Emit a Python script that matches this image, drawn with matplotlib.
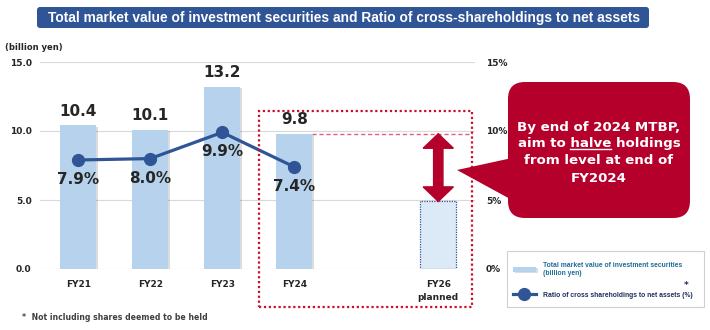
import matplotlib
matplotlib.use('Agg')
import matplotlib.pyplot as plt
from matplotlib.patches import Rectangle, FancyBboxPatch, Polygon
from matplotlib.lines import Line2D
import matplotlib.patheffects as pe
from matplotlib import font_manager

# ---------------- data ----------------
categories = ['FY21', 'FY22', 'FY23', 'FY24', 'FY26\nplanned']
positions = [0, 1, 2, 3, 5]
market_value = [10.4, 10.1, 13.2, 9.8]
planned_value = 4.9
ratio = [7.9, 8.0, 9.9, 7.4]
value_labels = ['10.4', '10.1', '13.2', '9.8']
ratio_labels = ['7.9%', '8.0%', '9.9%', '7.4%']
left_ticks = [0, 5, 10, 15]
left_tick_labels = ['0.0', '5.0', '10.0', '15.0']
right_tick_labels = ['0%', '5%', '10%', '15%']

title = 'Total market value of investment securities and Ratio of cross-shareholdings to net assets'
bar_label = 'Total market value of investment securities\n(billion yen)'
line_label = 'Ratio of cross shareholdings to net assets (%)'
footnote = '*  Not including shares deemed to be held'

# ---------------- styles ----------------
names = {f.name for f in font_manager.fontManager.ttflist}
narrow = 'Liberation Sans Narrow' if 'Liberation Sans Narrow' in names else 'Liberation Sans'
plt.rcParams['font.family'] = ['DejaVu Sans']

BAR = '#b7d2ec'
BAR_PLAN = '#dce9f6'
NAVY = '#2f5597'
RED = '#b5002b'
TXT = '#262626'

W, H = 710, 330
fig = plt.figure(figsize=(W / 100, H / 100), dpi=100)
inch = fig.dpi_scale_trans
renderer = fig.canvas.get_renderer()


def P(x, y):
    """pixel (from top-left) -> inches"""
    return (x / 100.0, (H - y) / 100.0)


def fit_size(text, target_px, family, weight='bold', start=8.0):
    t = fig.text(0, 0, text, fontsize=start, family=family, fontweight=weight)
    w = t.get_window_extent(renderer).width
    t.remove()
    return start * target_px / w


ax = fig.add_axes([40 / W, 1 - 269 / H, 435 / W, 207 / H])
ax.set_xlim(-0.53, 5.51)
ax.set_ylim(0, 15)
for s in ax.spines.values():
    s.set_visible(False)
ax.set_yticks(left_ticks)
ax.set_yticklabels(left_tick_labels, fontsize=6.5, fontweight='bold', color=TXT)
ax.tick_params(axis='y', length=0, pad=6)
ax.yaxis.grid(True, color='#d9d9d9', lw=0.8)
ax.set_axisbelow(True)
ax.set_xticks(positions)
ax.set_xticklabels(categories, fontsize=6.5, fontweight='bold', color=TXT, linespacing=1.6)
ax.tick_params(axis='x', length=0, pad=8)

ax2 = ax.twinx()
ax2.set_ylim(0, 15)
for s in ax2.spines.values():
    s.set_visible(False)
ax2.set_yticks(left_ticks)
ax2.set_yticklabels(right_tick_labels, fontsize=6.5, fontweight='bold', color=TXT)
ax2.tick_params(axis='y', length=0, pad=8)

shadow = [pe.SimplePatchShadow(offset=(1.5, -1.0), alpha=0.18), pe.Normal()]
bars = ax.bar(positions[:4], market_value, width=0.5, color=BAR, zorder=2,
              path_effects=shadow)
plan = ax.bar([positions[4]], [planned_value], width=0.5, color=BAR_PLAN,
              edgecolor=NAVY, linestyle=(0, (1, 1)), lw=0.9, zorder=2)

line, = ax.plot(positions[:4], ratio, color=NAVY, lw=2.3, marker='o', ms=8.5,
                zorder=4)

for x, v, lab in zip(positions, market_value, value_labels):
    ax.annotate(lab, (x, v), xytext=(0, 10), textcoords='offset points',
                ha='center', va='center', fontsize=11, fontweight='bold', color=TXT)
for x, v, lab in zip(positions, ratio, ratio_labels):
    ax.annotate(lab, (x, v), xytext=(0, -14), textcoords='offset points',
                ha='center', va='center', fontsize=11, fontweight='bold', color=TXT,
                zorder=5)

# dashed level line at FY24 value and double arrow to the planned value
ax.hlines(market_value[3], positions[3] + 0.25, 5.47, colors='#e0607e', lw=1.0,
          linestyles=(0, (3, 2)), clip_on=False, zorder=3)
xa = positions[4]
top, bot = market_value[3], planned_value
hw, sw, hl = 0.21, 0.065, 1.05
arrow = Polygon([(xa, top), (xa + hw, top - hl), (xa + sw, top - hl),
                 (xa + sw, bot + hl), (xa + hw, bot + hl), (xa, bot),
                 (xa - hw, bot + hl), (xa - sw, bot + hl), (xa - sw, top - hl),
                 (xa - hw, top - hl)], closed=True, color=RED, zorder=5)
ax.add_patch(arrow)

# red dotted frame around FY24 / FY26
(x0, y0), (x1, y1) = P(259, 307), P(472, 111)
fig.add_artist(Rectangle((x0, y0), x1 - x0, y1 - y0, transform=inch, fill=False,
                         edgecolor='#c8102e', lw=1.6, linestyle=(0, (1, 1.2))))

# callout
(bx0, by0), (bx1, by1) = P(508, 218), P(690, 82)
fig.add_artist(FancyBboxPatch((bx0, by0), bx1 - bx0, by1 - by0,
                              boxstyle='round,pad=0,rounding_size=0.17',
                              transform=inch, facecolor=RED, edgecolor='none'))
fig.add_artist(Polygon([P(457, 170), P(512, 158), P(512, 200)], closed=True,
                       transform=inch, facecolor=RED, edgecolor='none'))
cx = 599
lines_txt = ['By end of 2024 MTBP,', 'aim to halve holdings', 'from level at end of', 'FY2024']
ys = [127, 144, 161, 178]
CFS = 9.6
tkw = dict(ha='center', va='center', fontsize=CFS, fontweight='bold', color='white',
           transform=inch)
texts = []
for s, yy in zip(lines_txt, ys):
    texts.append(fig.text(*P(cx, yy), s, **tkw))

# title
(tx0, ty0), (tx1, ty1) = P(37, 28), P(649, 7)
fig.add_artist(FancyBboxPatch((tx0, ty0), tx1 - tx0, ty1 - ty0,
                              boxstyle='round,pad=0,rounding_size=0.03',
                              transform=inch, facecolor=NAVY, edgecolor='none'))
tfam = [narrow, 'DejaVu Sans']
tsize = fit_size(title, 596, tfam)
fig.text(*P(344, 18), title, ha='center', va='center', fontsize=tsize,
         fontweight='bold', color='white', family=tfam, transform=inch)

fig.text(*P(5, 47), '(billion yen)', ha='left', va='center', fontsize=6,
         fontweight='bold', color=TXT, transform=inch)
fig.text(*P(22, 318), footnote, ha='left', va='center', fontsize=5.6,
         fontweight='bold', color='#404040', transform=inch)

# legend
(lx0, ly0), (lx1, ly1) = P(507, 307), P(704, 251)
fig.add_artist(Rectangle((lx0, ly0), lx1 - lx0, ly1 - ly0, transform=inch,
                         fill=False, edgecolor='#d0d0d0', lw=0.8))
lfam = [narrow, 'DejaVu Sans']
lsize = min(fit_size('Total market value of investment securities', 156, lfam),
            fit_size(line_label, 150, lfam))
leg = fig.legend([bars, line], [bar_label, line_label], loc='upper left',
                 bbox_to_anchor=(512 / W, 1 - 261 / H), frameon=False,
                 prop={'family': lfam, 'weight': 'bold', 'size': lsize},
                 handlelength=3.4, handletextpad=1.0, labelspacing=2.2,
                 borderpad=0.1, borderaxespad=0)
leg.get_texts()[0].set_color('#1f6d99')
leg.get_texts()[1].set_color('#1f2f5f')

fig.canvas.draw()
r = fig.canvas.get_renderer()
# underline "halve"
t2 = texts[1]
bb = t2.get_window_extent(r)
tmp = fig.text(0, 0, 'aim to halve', fontsize=CFS, fontweight='bold')
w_pre_full = tmp.get_window_extent(r).width
tmp.set_text('halve')
w_halve = tmp.get_window_extent(r).width
tmp.remove()
ux0 = bb.x0 + (w_pre_full - w_halve)
ux1 = bb.x0 + w_pre_full
uy = bb.y0 + 1.5
fig.add_artist(Line2D([ux0, ux1], [uy, uy], transform=None, color='white', lw=1.0))
# asterisk above (%)
lb = leg.get_texts()[1].get_window_extent(r)
fig.text(lb.x1 - 6, lb.y1 + 1.5, '*', transform=None, ha='center', va='bottom',
         fontsize=6.5, fontweight='bold', color='#1f2f5f')

fig.savefig('out.png', dpi=100)
